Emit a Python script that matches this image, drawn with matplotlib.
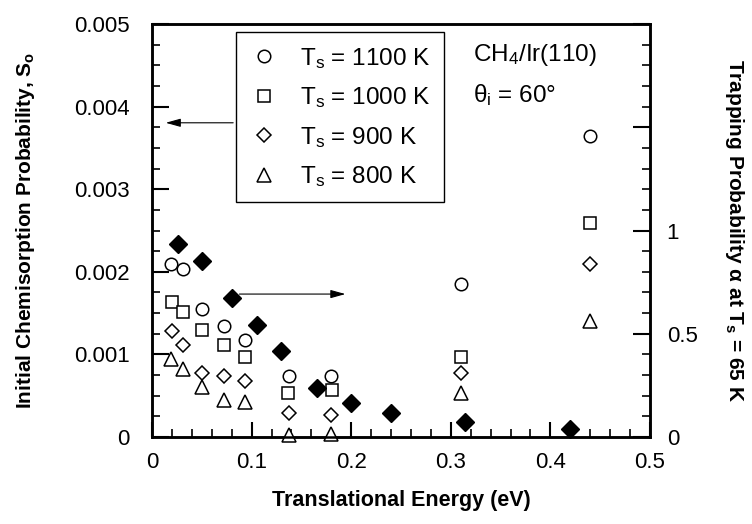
import numpy as np
import matplotlib
matplotlib.use("Agg")
import matplotlib.pyplot as plt
from matplotlib.lines import Line2D
from matplotlib.ticker import MultipleLocator, FixedLocator, FixedFormatter

plt.rcParams['font.family'] = ['Liberation Sans', 'DejaVu Sans']
plt.rcParams['mathtext.default'] = 'regular'

# initial chemisorption probability, left axis
e_1100 = [0.019, 0.031, 0.050, 0.072, 0.093, 0.1375, 0.180, 0.310, 0.440]
s_1100 = [0.00210, 0.00203, 0.00155, 0.00135, 0.00117, 0.00074, 0.00074, 0.00185, 0.00364]
e_1000 = [0.020, 0.031, 0.050, 0.072, 0.093, 0.137, 0.181, 0.310, 0.440]
s_1000 = [0.00163, 0.00151, 0.00130, 0.00111, 0.00097, 0.00053, 0.00057, 0.00097, 0.00259]
e_900 = [0.020, 0.031, 0.050, 0.072, 0.093, 0.1375, 0.180, 0.310, 0.440]
s_900 = [0.00128, 0.00111, 0.00077, 0.00074, 0.00068, 0.00029, 0.00027, 0.00077, 0.00209]
e_800 = [0.019, 0.031, 0.050, 0.072, 0.093, 0.1375, 0.180, 0.310, 0.440]
s_800 = [0.00095, 0.00082, 0.00060, 0.00045, 0.00042, 0.00002, 0.00004, 0.00053, 0.00141]

# trapping probability at Ts = 65 K, right axis
e_trap = [0.026, 0.050, 0.080, 0.105, 0.130, 0.166, 0.200, 0.240, 0.314, 0.420]
a_trap = [0.936, 0.852, 0.675, 0.544, 0.417, 0.235, 0.166, 0.117, 0.074, 0.037]

labels = ['T$_s$ = 1100 K', 'T$_s$ = 1000 K', 'T$_s$ = 900 K', 'T$_s$ = 800 K']

fig = plt.figure(figsize=(7.52, 5.24), dpi=100)
ax = fig.add_axes([0.2021, 0.166, 0.6623, 0.788])
ax2 = ax.twinx()

ms = 9
kw = dict(ls='none', mfc='white', mec='black', mew=1.1, ms=ms, clip_on=False, zorder=3)
ax.plot(e_1100, s_1100, marker='o', **kw)
ax.plot(e_1000, s_1000, marker='s', **kw)
ax.plot(e_900, s_900, marker='D', **dict(kw, ms=7))
ax.plot(e_800, s_800, marker='^', **dict(kw, ms=9.5))
ax2.plot(e_trap, a_trap, ls='none', marker='D', ms=9, mfc='black', mec='black', clip_on=False, zorder=3)

ax.set_xlim(0, 0.5)
ax.set_ylim(0, 0.005)
ax2.set_ylim(0, 2)

ax.set_xticks([0, 0.1, 0.2, 0.3, 0.4, 0.5])
ax.set_xticklabels(['0', '0.1', '0.2', '0.3', '0.4', '0.5'])
ax.xaxis.set_minor_locator(MultipleLocator(0.02))
ax.set_yticks([0, 0.001, 0.002, 0.003, 0.004, 0.005])
ax.set_yticklabels(['0', '0.001', '0.002', '0.003', '0.004', '0.005'])
ax.yaxis.set_minor_locator(MultipleLocator(0.00025))

ax2.yaxis.set_major_locator(FixedLocator([0, 0.5, 1, 1.5, 2]))
ax2.yaxis.set_major_formatter(FixedFormatter(['0', '0.5', '1', '', '']))
ax2.yaxis.set_minor_locator(MultipleLocator(0.1))

ax.tick_params(axis='x', which='both', direction='in', top=False, labelsize=16, pad=11)
ax.tick_params(axis='x', which='major', length=11, width=1.5)
ax.tick_params(axis='x', which='minor', length=6, width=1.2)
ax.tick_params(axis='y', which='both', direction='in', right=False, labelsize=16, pad=16)
ax.tick_params(axis='y', which='major', length=12, width=1.5)
ax.tick_params(axis='y', which='minor', length=6, width=1.2)
ax2.tick_params(axis='y', which='both', direction='in', labelsize=16, pad=12)
ax2.tick_params(axis='y', which='major', length=12, width=1.5)
ax2.tick_params(axis='y', which='minor', length=6, width=1.2)

for a in (ax, ax2):
    for sp in a.spines.values():
        sp.set_linewidth(1.8)

ax.set_xlabel('Translational Energy (eV)', fontsize=15.5, fontweight='bold', labelpad=12)
ax.set_ylabel('Initial Chemisorption Probability, S$_o$', fontsize=15, fontweight='bold', labelpad=27)
ax2.set_ylabel(r'Trapping Probability $\alpha$ at T$_s$ = 65 K', fontsize=15, fontweight='bold',
               rotation=270, labelpad=35)

handles = [
    Line2D([], [], ls='none', marker='o', mfc='white', mec='black', mew=1.1, ms=ms),
    Line2D([], [], ls='none', marker='s', mfc='white', mec='black', mew=1.1, ms=ms),
    Line2D([], [], ls='none', marker='D', mfc='white', mec='black', mew=1.1, ms=7),
    Line2D([], [], ls='none', marker='^', mfc='white', mec='black', mew=1.1, ms=9.5),
]
leg = ax2.legend(handles, labels, loc='upper left', bbox_to_anchor=(0.1687, 0.98),
                 borderaxespad=0, fontsize=17.5, fancybox=False, framealpha=1,
                 edgecolor='black', handlelength=1.2, handletextpad=0.9,
                 labelspacing=0.6, borderpad=0.55)
leg.get_frame().set_linewidth(1.0)

ax2.text(0.645, 0.925, 'CH$_4$/Ir(110)', transform=ax.transAxes, fontsize=17.5, va='center')
ax2.text(0.645, 0.828, r'$\theta_i$ = 60°', transform=ax.transAxes, fontsize=17.5, va='center')

arrow = dict(arrowstyle='-|>,head_length=0.9,head_width=0.25', color='black', lw=0.8)
ax.annotate('', xy=(0.011, 0.003805), xytext=(0.0843, 0.003805), arrowprops=arrow)
ax.annotate('', xy=(0.197, 0.001731), xytext=(0.085, 0.001731), arrowprops=arrow)

fig.savefig('out.png', dpi=100)
